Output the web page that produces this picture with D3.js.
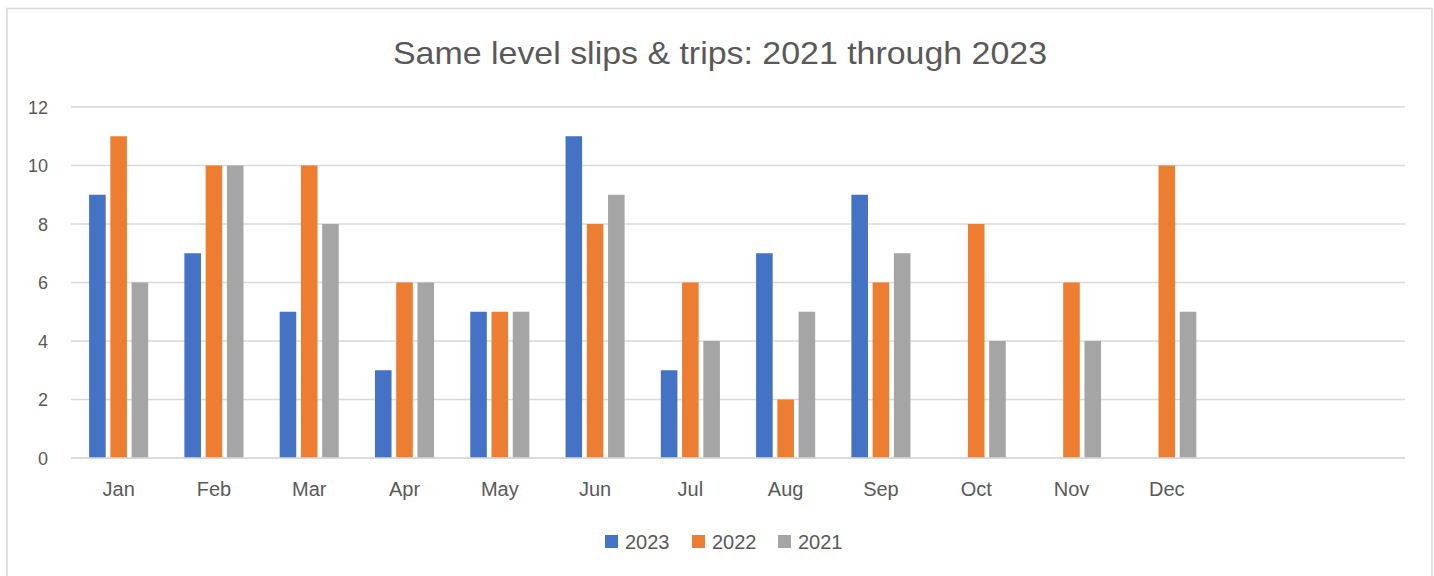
<!DOCTYPE html>
<html>
<head>
<meta charset="utf-8">
<script src="https://cdn.jsdelivr.net/npm/d3@7"></script>
<style>
  html, body { margin: 0; padding: 0; background: #fff; }
  svg { display: block; font-family: "Liberation Sans", Arial, sans-serif; }
</style>
</head>
<body>
<svg id="chart" width="1434" height="576"></svg>
<script>
const title = "Same level slips & trips: 2021 through 2023";
const months = ["Jan","Feb","Mar","Apr","May","Jun","Jul","Aug","Sep","Oct","Nov","Dec","",""];
const seriesNames = ["2023","2022","2021"];
const seriesColors = ["#4472C4","#ED7D31","#A5A5A5"];
const values2023 = [9, 7, 5, 3, 5, 11, 3, 7, 9, null, null, null, null, null];
const values2022 = [11, 10, 10, 6, 5, 8, 6, 2, 6, 8, 6, 10, null, null];
const values2021 = [6, 10, 8, 6, 5, 9, 4, 5, 7, 4, 4, 5, null, null];
const yTicks = [0, 2, 4, 6, 8, 10, 12];

const seriesValues = [values2023, values2022, values2021];

const svg = d3.select("#chart");
const W = 1434, H = 576;

// outer chart border
svg.append("rect")
  .attr("x", 7).attr("y", 8.5)
  .attr("width", 1425).attr("height", 600)
  .attr("fill", "#fff").attr("stroke", "#D9D9D9").attr("stroke-width", 1.5);

const plot = { left: 71, right: 1405, top: 107, bottom: 458 };

const x0 = d3.scaleBand()
  .domain(d3.range(months.length))
  .range([plot.left, plot.right])
  .paddingInner(0.38).paddingOuter(0.19);

const x1 = d3.scaleBand()
  .domain(seriesNames)
  .range([0, x0.bandwidth()])
  .paddingInner(0.22).paddingOuter(0);

const y = d3.scaleLinear().domain([0, 12]).range([plot.bottom, plot.top]);

// gridlines
svg.append("g").selectAll("line")
  .data(yTicks)
  .join("line")
  .attr("x1", plot.left).attr("x2", plot.right)
  .attr("y1", d => y(d)).attr("y2", d => y(d))
  .attr("stroke", "#D9D9D9").attr("stroke-width", 1.3);

// y axis labels
const yAxis = d3.axisLeft(y).tickValues(yTicks).tickSize(0).tickPadding(0);
const yg = svg.append("g").attr("transform", `translate(48,0)`).call(yAxis);
yg.select(".domain").remove();
yg.selectAll("text")
  .attr("font-size", 18).attr("fill", "#595959")
  .attr("font-family", "'Liberation Sans', Arial, sans-serif")
  .attr("dy", "0.35em");

// x axis labels
const xAxis = d3.axisBottom(x0).tickFormat(i => months[i]).tickSize(0).tickPadding(0);
const xg = svg.append("g").attr("transform", `translate(0,${plot.bottom})`).call(xAxis);
xg.select(".domain").remove();
xg.selectAll("text")
  .attr("font-size", 20).attr("fill", "#595959")
  .attr("font-family", "'Liberation Sans', Arial, sans-serif")
  .attr("y", 38).attr("dy", 0);

// bars
const groups = svg.append("g").selectAll("g")
  .data(d3.range(months.length))
  .join("g")
  .attr("transform", i => `translate(${x0(i)},0)`);

groups.selectAll("rect")
  .data(i => seriesNames.map((s, k) => ({ s, k, v: seriesValues[k][i] })).filter(d => d.v != null))
  .join("rect")
  .attr("x", d => x1(d.s))
  .attr("width", x1.bandwidth())
  .attr("y", d => y(d.v))
  .attr("height", d => y(0) - y(d.v))
  .attr("fill", d => seriesColors[d.k]);

// redraw baseline over bars
svg.append("line")
  .attr("x1", plot.left).attr("x2", plot.right)
  .attr("y1", y(0)).attr("y2", y(0))
  .attr("stroke", "#D9D9D9").attr("stroke-width", 1.3);

// title
svg.append("text")
  .attr("x", 720).attr("y", 64)
  .attr("text-anchor", "middle")
  .attr("font-size", 32).attr("fill", "#595959")
  .attr("textLength", 654).attr("lengthAdjust", "spacingAndGlyphs")
  .text(title);

// legend
const legendX = [605, 692, 778];
const lg = svg.append("g").selectAll("g")
  .data(seriesNames)
  .join("g")
  .attr("transform", (d, i) => `translate(${legendX[i]},535)`);
lg.append("rect").attr("width", 13).attr("height", 13).attr("fill", (d, i) => seriesColors[i]);
lg.append("text")
  .attr("x", 20).attr("y", 14)
  .attr("font-size", 20).attr("fill", "#595959")
  .text(d => d);
</script>
</body>
</html>
